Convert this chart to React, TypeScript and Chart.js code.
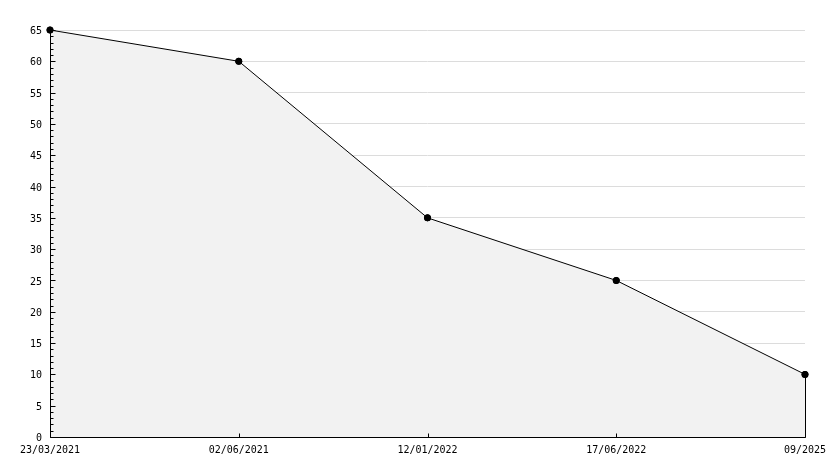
import React, { useEffect, useRef } from "react";
import { Chart, registerables } from "chart.js";
Chart.register(...registerables);

const categories = ["23/03/2021", "02/06/2021", "12/01/2022", "17/06/2022", "09/2025"];
const values = [65, 60, 35, 25, 10];
const yMin = 0;
const yMax = 65;
const yStep = 5;
const yMinorStep = 1;

const FONT = "'DejaVu Sans Mono', monospace";

const axesPlugin = {
  id: "axesInside",
  afterDatasetsDraw(chart: any) {
    const { ctx, chartArea, scales } = chart;
    const xs = scales.x;
    const ys = scales.y;
    const L = Math.round(chartArea.left) + 0.5;
    const B = Math.round(chartArea.bottom) + 0.5;
    const R = Math.round(chartArea.right) + 0.5;
    ctx.save();
    ctx.strokeStyle = "#000";
    ctx.lineWidth = 1;
    ctx.beginPath();
    ctx.moveTo(L, Math.round(chartArea.top));
    ctx.lineTo(L, B);
    ctx.lineTo(R, B);
    for (let v = yMin; v <= yMax; v += yMinorStep) {
      const py = Math.round(ys.getPixelForValue(v)) + 0.5;
      const len = v % yStep === 0 ? 5 : 3;
      ctx.moveTo(L, py);
      ctx.lineTo(L + len, py);
    }
    for (let i = 0; i < categories.length; i++) {
      const px = Math.round(xs.getPixelForValue(i)) + 0.5;
      ctx.moveTo(px, B);
      ctx.lineTo(px, B - 4);
    }
    const last = values.length - 1;
    const lx = Math.round(xs.getPixelForValue(last)) + 0.5;
    ctx.moveTo(lx, ys.getPixelForValue(values[last]));
    ctx.lineTo(lx, B);
    ctx.stroke();
    // redraw points on top of the axes
    const meta = chart.getDatasetMeta(0);
    ctx.fillStyle = "#000";
    meta.data.forEach((pt: any) => {
      ctx.beginPath();
      ctx.arc(pt.x, pt.y, 3.5, 0, Math.PI * 2);
      ctx.fill();
    });
    ctx.restore();
  },
};

export default function App() {
  const ref = useRef<HTMLCanvasElement>(null);
  useEffect(() => {
    if (!ref.current) return;
    const chart = new Chart(ref.current, {
      type: "line",
      data: {
        labels: categories,
        datasets: [
          {
            data: values,
            borderColor: "#000",
            borderWidth: 1,
            backgroundColor: "#f2f2f2",
            fill: "origin",
            tension: 0,
            clip: false,
            pointRadius: 3,
            pointBackgroundColor: "#000",
            pointBorderColor: "#000",
            pointBorderWidth: 1,
          },
        ],
      },
      options: {
        animation: false,
        responsive: false,
        layout: { padding: { top: 30, right: 29, left: 0, bottom: 0 } },
        plugins: { legend: { display: false }, tooltip: { enabled: false } },
        scales: {
          x: {
            offset: false,
            grid: { display: true, color: "rgba(0,0,0,0)", drawTicks: false },
            border: { display: false },
            ticks: {
              color: "#000",
              font: { family: FONT, size: 10 },
              padding: 7,
              maxRotation: 0,
              autoSkip: false,
            },
            afterFit(scale: any) {
              scale.height = 31;
            },
          },
          y: {
            min: yMin,
            max: yMax,
            grid: { color: "#dcdcdc", drawTicks: false },
            border: { display: false },
            ticks: {
              stepSize: yStep,
              color: "#000",
              font: { family: FONT, size: 10 },
              padding: 8,
              labelOffset: 1.5,
            },
            afterFit(scale: any) {
              scale.width = 50;
            },
          },
        },
      },
      plugins: [axesPlugin],
    });
    return () => chart.destroy();
  }, []);
  return (
    <div style={{ position: "absolute", left: 0, top: 0, width: 834, height: 468, background: "#fff" }}>
      <canvas ref={ref} width={834} height={468} />
    </div>
  );
}
